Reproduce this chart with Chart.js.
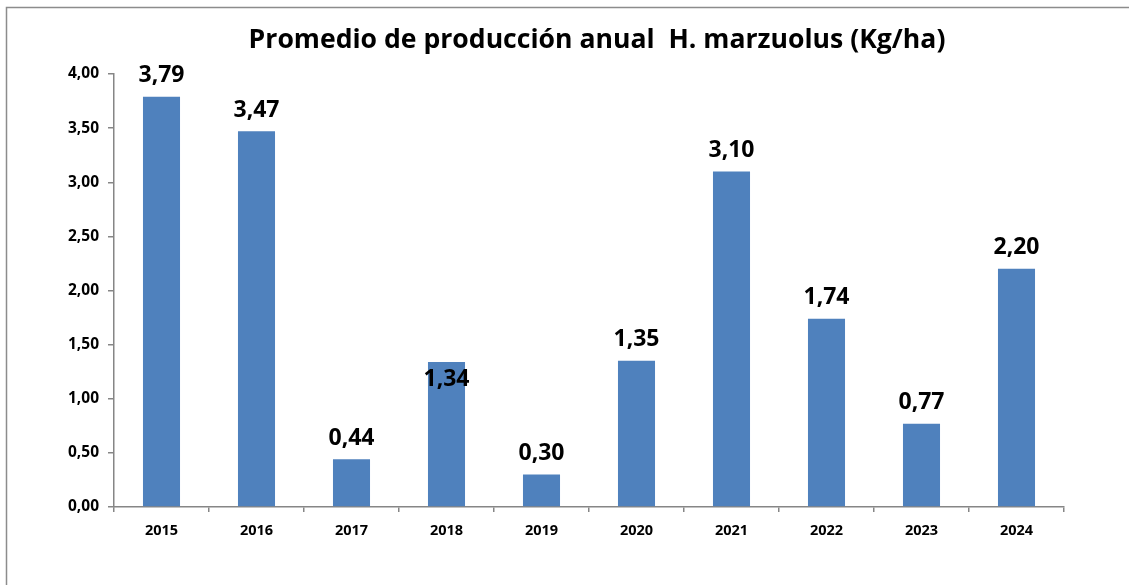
<!DOCTYPE html>
<html>
<head>
<meta charset="utf-8">
<script src="https://cdn.jsdelivr.net/npm/chart.js@4"></script>
<style>
  html, body { margin: 0; padding: 0; background: #fff; }
  #wrap { width: 1129px; height: 585px; position: relative; }
</style>
</head>
<body>
<div id="wrap"><canvas id="prodChart"></canvas></div>
<script>
const years = ['2015', '2016', '2017', '2018', '2019', '2020', '2021', '2022', '2023', '2024'];
const produccion = [3.79, 3.47, 0.44, 1.34, 0.30, 1.35, 3.10, 1.74, 0.77, 2.20];
const yTicks = [0, 0.5, 1, 1.5, 2, 2.5, 3, 3.5, 4];
const titulo = 'Promedio de producción anual  H. marzuolus (Kg/ha)';

const FONT = '"Open Sans", "Noto Sans", sans-serif';
const axisGray = '#868686';

function coma(v) {
    return v.toFixed(2).replace('.', ',');
}

// frame lines like the Excel chart area border
const framePlugin = {
    id: 'frame',
    beforeDraw(chart) {
        const ctx = chart.ctx;
        ctx.save();
        ctx.strokeStyle = '#8c8c8c';
        ctx.lineWidth = 1.5;
        ctx.beginPath();
        ctx.moveTo(6.5, 585);
        ctx.lineTo(6.5, 7.5);
        ctx.lineTo(1129, 7.5);
        ctx.stroke();
        ctx.restore();
    }
};

// title centred on the whole chart, not the plot area
const tituloPlugin = {
    id: 'titulo',
    afterDraw(chart) {
        const ctx = chart.ctx;
        ctx.save();
        ctx.font = 'bold 26.6px ' + FONT;
        ctx.fillStyle = '#000';
        ctx.textAlign = 'center';
        ctx.textBaseline = 'middle';
        ctx.fillText(titulo, 597, 40);
        ctx.restore();
    }
};

// value labels above the bars
const valueLabels = {
    id: 'valueLabels',
    afterDatasetsDraw(chart) {
        const ctx = chart.ctx;
        const meta = chart.getDatasetMeta(0);
        ctx.save();
        ctx.font = 'bold 23px ' + FONT;
        ctx.fillStyle = '#000';
        ctx.textAlign = 'center';
        ctx.textBaseline = 'middle';
        meta.data.forEach((bar, i) => {
            let y = bar.y - 21;
            if (i === 3) y = bar.y + 18; // Excel put this one over the bar
            ctx.fillText(coma(produccion[i]), bar.x, y);
        });
        ctx.restore();
    }
};

const ctx = document.getElementById('prodChart').getContext('2d');
new Chart(ctx, {
    type: 'bar',
    data: {
        labels: years,
        datasets: [{
            label: 'Producción',
            data: produccion,
            backgroundColor: '#4F81BD',
            borderWidth: 0,
            categoryPercentage: 1,
            barPercentage: 0.39
        }]
    },
    options: {
        responsive: true,
        maintainAspectRatio: false,
        animation: false,
        layout: { padding: { left: 10, right: 65, top: 74, bottom: 0 } },
        plugins: {
            legend: { display: false },
            tooltip: { enabled: false },
            title: { display: false }
        },
        scales: {
            x: {
                grid: {
                    display: true,
                    drawOnChartArea: false,
                    offset: true,
                    color: axisGray,
                    tickLength: 5,
                    lineWidth: 1.5
                },
                border: { display: true, color: axisGray, width: 1.5 },
                ticks: {
                    color: '#000',
                    font: { family: FONT, size: 14.5, weight: 'bold' },
                    padding: 10
                },
                afterFit(s) { s.height = 78; }
            },
            y: {
                min: 0,
                max: 4,
                afterBuildTicks(s) { s.ticks = yTicks.map(v => ({ value: v })); },
                grid: {
                    display: true,
                    drawOnChartArea: false,
                    color: axisGray,
                    tickLength: 6,
                    lineWidth: 1.5
                },
                border: { display: true, color: axisGray, width: 1.5 },
                ticks: {
                    color: '#000',
                    font: { family: FONT, size: 15.5, weight: 'bold' },
                    padding: 9,
                    callback: v => coma(v)
                },
                afterFit(s) { s.width = 104; }
            }
        }
    },
    plugins: [framePlugin, tituloPlugin, valueLabels]
});
</script>
</body>
</html>
